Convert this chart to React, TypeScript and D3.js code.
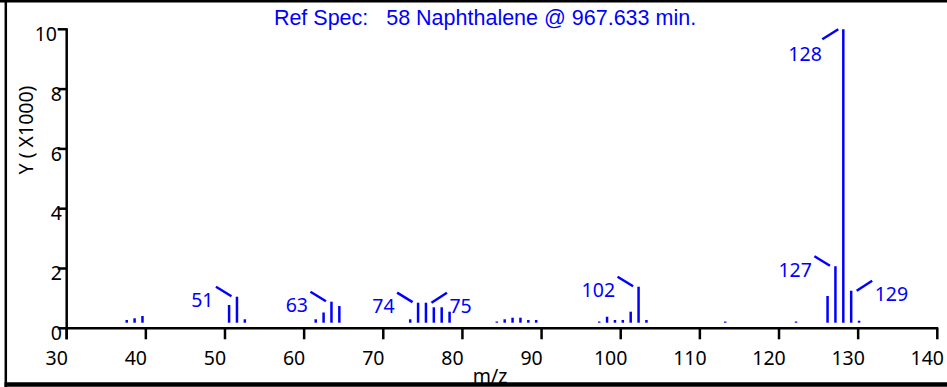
import React from "react";
import * as d3 from "d3";

// ---- data ----
const peakMz: number[] = [37, 38, 39, 50, 51, 52, 61, 62, 63, 64, 73, 74, 75, 76, 77, 78, 84, 85, 86, 87, 88, 89, 97, 98, 99, 100, 101, 102, 103, 113, 122, 126, 127, 128, 129, 130];
const peakIntensity: number[] = [92, 150, 228, 603, 886, 116, 116, 348, 716, 569, 116, 682, 682, 525, 525, 375, 34, 116, 170, 170, 92, 92, 34, 204, 92, 92, 375, 1227, 92, 34, 34, 910, 1925, 10000, 1090, 68];
const labelMz: number[] = [51, 63, 74, 75, 102, 127, 128, 129];
const labelSide: string[] = ["left", "left", "left", "right", "left", "left", "down", "right"];
const xTicks: number[] = [30, 40, 50, 60, 70, 80, 90, 100, 110, 120, 130, 140];
const yTicks: number[] = [0, 2, 4, 6, 8, 10];
const titleText = "Ref Spec:   58 Naphthalene @ 967.633 min.";
const xLabel = "m/z";
const yLabel = "Y ( X1000)";

const W = 947;
const H = 387;
const BLUE = "#0000ff";
const TITLE_FONT = "'Liberation Sans', Arial, sans-serif";
const FONT = "'Noto Sans', 'Open Sans', sans-serif";

export default function App() {
  // axis scales
  const xAxis = d3.scaleLinear().domain([30, 140]).range([66.7, 937.3]);
  const yAxis = d3.scaleLinear().domain([0, 10]).range([328.3, 29.3]);
  // data scales (plot area inset from the axes)
  const xData = d3.scaleLinear().domain([30, 140]).range([71.6, 937.8]);
  const yData = d3.scaleLinear().domain([0, 10000]).range([322.7, 29.3]);

  const peaks = peakMz.map((m, i) => ({ mz: m, v: peakIntensity[i] }));
  const byMz = new Map(peaks.map((p) => [p.mz, p.v]));

  return (
    <svg
      width={W}
      height={H}
      style={{ position: "absolute", left: 0, top: 0, background: "#fff" }}
      fontFamily={FONT}
    >
      <rect x={0} y={0} width={W} height={H} fill="#fff" />
      {/* title */}
      <text
        x={485}
        y={25}
        textAnchor="middle"
        fontSize={21.5}
        fontFamily={TITLE_FONT}
        fill={BLUE}
        style={{ whiteSpace: "pre" }}
        xmlSpace="preserve"
      >
        {titleText}
      </text>

      {/* peaks */}
      <g stroke={BLUE} strokeWidth={2.5}>
        {peaks.map((p) => {
          const y0 = yData(0);
          let y1 = yData(p.v);
          if (y0 - y1 < 1.2) y1 = y0 - 1.2;
          return <line key={p.mz} x1={xData(p.mz)} x2={xData(p.mz)} y1={y0} y2={y1} />;
        })}
      </g>

      {/* peak labels */}
      <g fill={BLUE} fontSize={19.5}>
        {labelMz.map((m, i) => {
          const bx = xData(m);
          const top = yData(byMz.get(m) || 0);
          const side = labelSide[i];
          if (side === "left") {
            return (
              <g key={m}>
                <line x1={bx - 5.5} y1={top - 0.5} x2={bx - 21} y2={top - 10} stroke={BLUE} strokeWidth={2.5} />
                <text x={bx - 23.5} y={top + 10.5} textAnchor="end">{String(m)}</text>
              </g>
            );
          } else if (side === "right") {
            return (
              <g key={m}>
                <line x1={bx + 5.5} y1={top} x2={bx + 21} y2={top - 10} stroke={BLUE} strokeWidth={2.5} />
                <text x={bx + 23.5} y={top + 10.5} textAnchor="start">{String(m)}</text>
              </g>
            );
          }
          return (
            <g key={m}>
              <line x1={bx - 5} y1={top} x2={bx - 21} y2={top + 10} stroke={BLUE} strokeWidth={2.5} />
              <text x={bx - 21.5} y={top + 31.5} textAnchor="end">{String(m)}</text>
            </g>
          );
        })}
      </g>

      {/* axes */}
      <g stroke="#000" strokeWidth={2.5}>
        <line x1={xAxis(30)} x2={xAxis(30)} y1={yAxis(10) - 1} y2={yAxis(0) + 11} />
        <line x1={xAxis(30) - 1} x2={xAxis(140) + 1} y1={yAxis(0)} y2={yAxis(0)} />
        {xTicks.map((t) => (
          <line key={"xt" + t} x1={xAxis(t)} x2={xAxis(t)} y1={yAxis(0)} y2={yAxis(0) + 11} />
        ))}
        {yTicks.map((t) => (
          <line key={"yt" + t} x1={xAxis(30) - 9} x2={xAxis(30)} y1={yAxis(t)} y2={yAxis(t)} />
        ))}
      </g>
      <g fill="#000" fontSize={19.5}>
        {xTicks.map((t) => (
          <text key={"xl" + t} x={xAxis(t) - 10} y={365} textAnchor="middle">{String(t)}</text>
        ))}
        {yTicks.map((t) => (
          <text key={"yl" + t} x={xAxis(30) - 4.7 - (t >= 10 ? 5 : 0)} y={yAxis(t) + 11.7} textAnchor="end">{String(t)}</text>
        ))}
        <text x={490} y={383} textAnchor="middle">{xLabel}</text>
        <text transform="translate(33,130) rotate(-90)" textAnchor="middle">{yLabel}</text>
      </g>

      {/* frame */}
      <g stroke="#000" fill="none">
        <line x1={5.8} x2={5.8} y1={0} y2={H} strokeWidth={2.5} />
        <line x1={0} x2={W} y1={1.2} y2={1.2} strokeWidth={2.5} />
        <line x1={4.5} x2={W} y1={384.5} y2={384.5} strokeWidth={4.5} />
      </g>
    </svg>
  );
}
